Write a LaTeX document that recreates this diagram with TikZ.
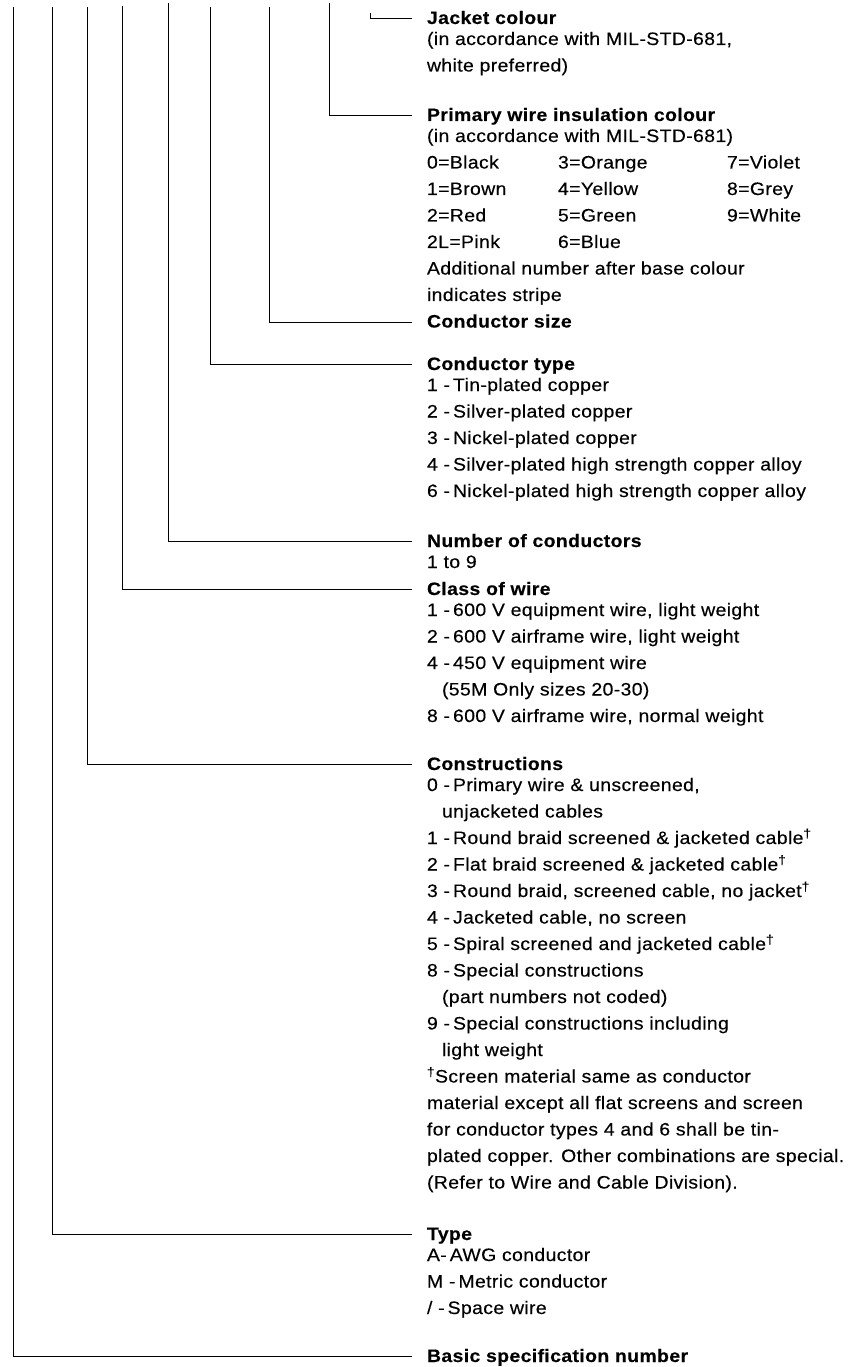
\documentclass[tikz,border=0pt]{standalone}
\usepackage{fontspec}
\setmainfont{Liberation Sans}[FakeStretch=1.08, LetterSpace=2, FakeBold=0.3]
\newcommand\colrow[3]{\makebox[131pt][l]{#1}\makebox[169pt][l]{#2}#3}
\newcommand\ind{\hspace*{15pt}}
\newcommand\dg{\textsuperscript{\textdagger}}
\begin{document}
\begin{tikzpicture}[x=1pt,y=-1pt,
  block/.style={anchor=base west, inner sep=0pt, outer sep=0pt,
    font=\fontsize{18}{26.5}\selectfont},
  lead/.style={draw=black, line width=1pt}]
\useasboundingbox (0,0) rectangle (855,1367);

% text blocks
\node[block] (jacket) at (427,24) {\begin{tabular}[t]{@{}l@{}}
\textbf{Jacket colour}\\[-5.5pt]
(in accordance with MIL-STD-681,\\
white preferred)
\end{tabular}};

\node[block] (primary) at (427,121) {\begin{tabular}[t]{@{}l@{}}
\textbf{Primary wire insulation colour}\\[-5.5pt]
(in accordance with MIL-STD-681)\\
\colrow{0=Black}{3=Orange}{7=Violet}\\
\colrow{1=Brown}{4=Yellow}{8=Grey}\\
\colrow{2=Red}{5=Green}{9=White}\\
\colrow{2L=Pink}{6=Blue}{}\\
Additional number after base colour\\
indicates stripe
\end{tabular}};

\node[block] (consize) at (427,327.5) {\textbf{Conductor size}};

\node[block] (contype) at (427,370) {\begin{tabular}[t]{@{}l@{}}
\textbf{Conductor type}\\[-5.5pt]
1 -\,Tin-plated copper\\
2 -\,Silver-plated copper\\
3 -\,Nickel-plated copper\\
4 -\,Silver-plated high strength copper alloy\\
6 -\,Nickel-plated high strength copper alloy
\end{tabular}};

\node[block] (number) at (427,547) {\begin{tabular}[t]{@{}l@{}}
\textbf{Number of conductors}\\[-5.5pt]
1 to 9
\end{tabular}};

\node[block] (class) at (427,595) {\begin{tabular}[t]{@{}l@{}}
\textbf{Class of wire}\\[-5.5pt]
1 -\,600 V equipment wire, light weight\\
2 -\,600 V airframe wire, light weight\\
4 -\,450 V equipment wire\\
\ind(55M Only sizes 20-30)\\
8 -\,600 V airframe wire, normal weight
\end{tabular}};

\node[block] (constr) at (427,770) {\begin{tabular}[t]{@{}l@{}}
\textbf{Constructions}\\[-5.5pt]
0 -\,Primary wire \& unscreened,\\
\ind unjacketed cables\\
1 -\,Round braid screened \& jacketed cable\dg\\
2 -\,Flat braid screened \& jacketed cable\dg\\
3 -\,Round braid, screened cable, no jacket\dg\\
4 -\,Jacketed cable, no screen\\
5 -\,Spiral screened and jacketed cable\dg\\
8 -\,Special constructions\\
\ind(part numbers not coded)\\
9 -\,Special constructions including\\
\ind light weight\\
\dg Screen material same as conductor\\
material except all flat screens and screen\\
for conductor types 4 and 6 shall be tin-\\
plated copper. Other combinations are special.\\
(Refer to Wire and Cable Division).
\end{tabular}};

\node[block] (type) at (427,1240) {\begin{tabular}[t]{@{}l@{}}
\textbf{Type}\\[-5.5pt]
A-\,AWG conductor\\
M -\,Metric conductor\\
/ -\,Space wire
\end{tabular}};

\node[block] (basic) at (427,1362) {\textbf{Basic specification number}};

% tops of the leader lines
\coordinate (tBasic) at (13,7);
\coordinate (tType) at (52,7);
\coordinate (tConstr) at (87,7);
\coordinate (tClass) at (122,6);
\coordinate (tNumber) at (168,3);
\coordinate (tContype) at (210,7);
\coordinate (tConsize) at (269,7);
\coordinate (tPrimary) at (329,3);
\coordinate (tJacket) at (370,13);

% leader lines
\draw[lead] (tJacket) |- ([shift={(-15,-5.5)}]jacket.base west);
\draw[lead] (tPrimary) |- ([shift={(-15,-5.5)}]primary.base west);
\draw[lead] (tConsize) |- ([shift={(-15,-5.5)}]consize.base west);
\draw[lead] (tContype) |- ([shift={(-15,-5.5)}]contype.base west);
\draw[lead] (tNumber) |- ([shift={(-15,-5.5)}]number.base west);
\draw[lead] (tClass) |- ([shift={(-15,-5.5)}]class.base west);
\draw[lead] (tConstr) |- ([shift={(-15,-5.5)}]constr.base west);
\draw[lead] (tType) |- ([shift={(-15,-5.5)}]type.base west);
\draw[lead] (tBasic) |- ([shift={(-15,-5.5)}]basic.base west);
\end{tikzpicture}
\end{document}
